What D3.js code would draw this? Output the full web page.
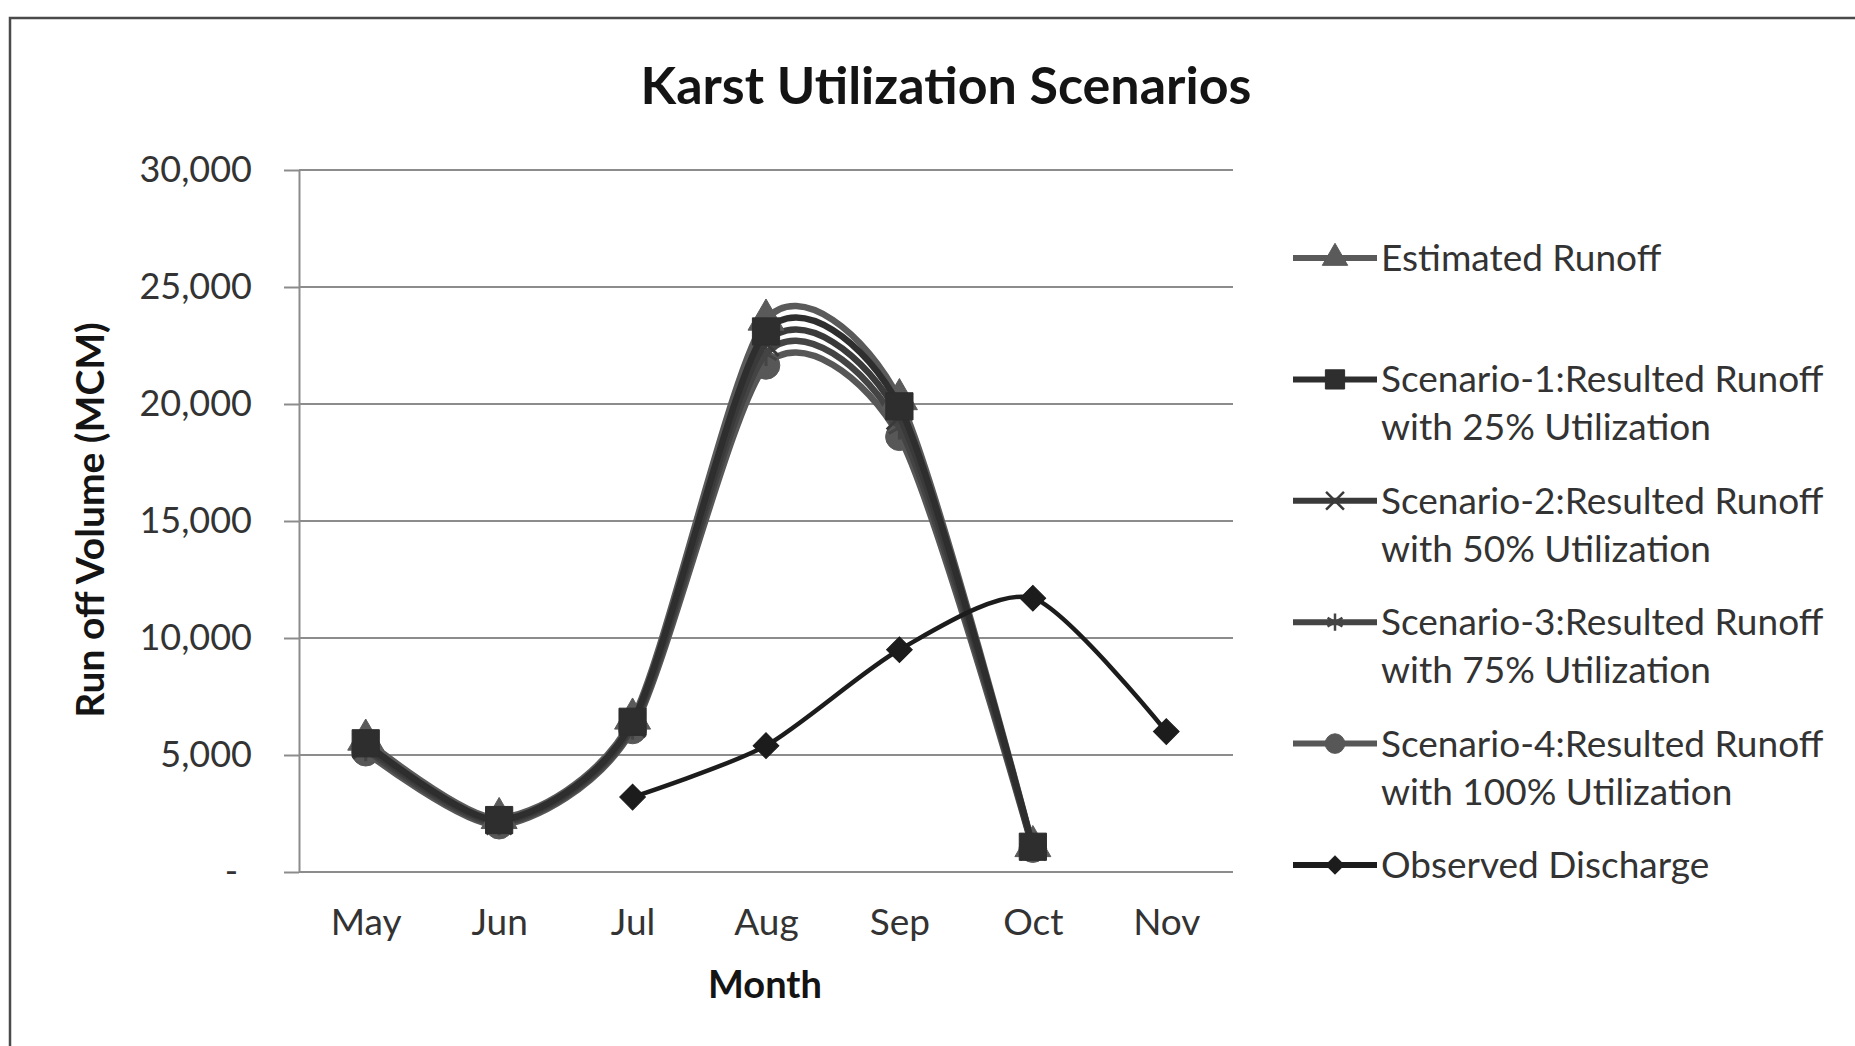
<!DOCTYPE html>
<html>
<head>
<meta charset="utf-8">
<script src="https://cdn.jsdelivr.net/npm/d3@7"></script>
<style>
  body { margin: 0; background: #fff; }
  text { font-family: Lato, "Open Sans", sans-serif; }
</style>
</head>
<body>
<script>
  // Data
  var months = ["May", "Jun", "Jul", "Aug", "Sep", "Oct", "Nov"];
  var estimated = [5650, 2300, 6550, 23600, 20200, 1100, null];
  var scenario1 = [5500, 2220, 6420, 23100, 19900, 1080, null];
  var scenario2 = [5380, 2150, 6300, 22600, 19450, 1060, null];
  var scenario3 = [5250, 2080, 6180, 22150, 19000, 1040, null];
  var scenario4 = [5120, 2000, 6070, 21650, 18600, 1000, null];
  var observed = [null, null, 3200, 5400, 9500, 11700, 6000];
  var yTicks = [0, 5000, 10000, 15000, 20000, 25000, 30000];
  var seriesNames = [
    ["Estimated Runoff"],
    ["Scenario-1:Resulted Runoff", "with 25% Utilization"],
    ["Scenario-2:Resulted Runoff", "with 50% Utilization"],
    ["Scenario-3:Resulted Runoff", "with 75% Utilization"],
    ["Scenario-4:Resulted Runoff", "with 100% Utilization"],
    ["Observed Discharge"]
  ];

  var width = 1855, height = 1046;
  var plot = { left: 299, right: 1233, top: 170, bottom: 872 };

  var svg = d3.select("body").append("svg")
    .attr("width", width)
    .attr("height", height);

  // chart frame
  svg.append("rect")
    .attr("x", 10).attr("y", 18)
    .attr("width", 1900).attr("height", 1100)
    .attr("fill", "none")
    .attr("stroke", "#4a4a4a")
    .attr("stroke-width", 2.5);

  var x = d3.scalePoint().domain(months).range([plot.left, plot.right]).padding(0.5);
  var y = d3.scaleLinear().domain([0, 30000]).range([plot.bottom, plot.top]);

  // gridlines
  svg.append("g").selectAll("line")
    .data(yTicks)
    .enter().append("line")
    .attr("x1", plot.left).attr("x2", plot.right)
    .attr("y1", function (d) { return y(d); })
    .attr("y2", function (d) { return y(d); })
    .attr("stroke", "#8c8c8c")
    .attr("stroke-width", 2);

  // y axis
  var yAxis = d3.axisLeft(y)
    .tickValues(yTicks)
    .tickSizeInner(15).tickSizeOuter(0)
    .tickPadding(32)
    .tickFormat(function (d) { return d === 0 ? "-" : d3.format(",")(d); });

  var gy = svg.append("g")
    .attr("transform", "translate(" + plot.left + ",0)")
    .call(yAxis);
  gy.select(".domain").attr("stroke", "#8c8c8c").attr("stroke-width", 2);
  gy.selectAll(".tick line").attr("stroke", "#8c8c8c").attr("stroke-width", 2);
  gy.selectAll(".tick text")
    .attr("font-size", 36)
    .attr("font-family", "Lato, sans-serif")
    .attr("fill", "#333")
    .attr("dx", function (d) { return d === 0 ? -14 : 0; });

  // x axis
  var xAxis = d3.axisBottom(x).tickSize(0).tickPadding(37);
  var gx = svg.append("g")
    .attr("transform", "translate(0," + plot.bottom + ")")
    .call(xAxis);
  gx.select(".domain").remove();
  gx.selectAll(".tick text")
    .attr("font-size", 37)
    .attr("font-family", "Lato, sans-serif")
    .attr("fill", "#333");

  // titles
  svg.append("text")
    .attr("x", 946).attr("y", 104)
    .attr("text-anchor", "middle")
    .attr("font-size", 52)
    .attr("font-weight", "bold")
    .attr("fill", "#141414")
    .text("Karst Utilization Scenarios");

  svg.append("text")
    .attr("x", 765).attr("y", 998)
    .attr("text-anchor", "middle")
    .attr("font-size", 38)
    .attr("font-weight", "bold")
    .attr("fill", "#141414")
    .text("Month");

  svg.append("text")
    .attr("transform", "translate(104,520) rotate(-90)")
    .attr("text-anchor", "middle")
    .attr("font-size", 39)
    .attr("font-weight", "bold")
    .attr("fill", "#141414")
    .text("Run off Volume (MCM)");

  // series (legend order)
  var series = [
    { values: estimated, color: "#5a5a5a", width: 6.5, symbol: d3.symbolTriangle, size: 560, rotate: 0, stroke: false },
    { values: scenario1, color: "#2e2e2e", width: 6.5, symbol: d3.symbolSquare, size: 740, rotate: 0, stroke: false },
    { values: scenario2, color: "#3a3a3a", width: 6.5, symbol: d3.symbolTimes || d3.symbolX, size: 420, rotate: 0, stroke: true },
    { values: scenario3, color: "#444444", width: 6.5, symbol: d3.symbolAsterisk, size: 420, rotate: 0, stroke: true },
    { values: scenario4, color: "#575757", width: 6.5, symbol: d3.symbolCircle, size: 600, rotate: 0, stroke: false },
    { values: observed, color: "#1c1c1c", width: 4.5, symbol: d3.symbolSquare, size: 330, rotate: 45, stroke: false }
  ];
  // drawing order so the squares sit on top like the original
  var drawOrder = [4, 3, 2, 0, 1, 5];

  var line = d3.line()
    .x(function (d) { return x(d.m); })
    .y(function (d) { return y(d.v); })
    .curve(d3.curveCardinal.tension(0.25));

  drawOrder.forEach(function (k) {
    var s = series[k];
    var pts = months.map(function (m, i) { return { m: m, v: s.values[i] }; })
      .filter(function (d) { return d.v !== null; });
    svg.append("path")
      .datum(pts)
      .attr("d", line)
      .attr("fill", "none")
      .attr("stroke", s.color)
      .attr("stroke-width", s.width)
      .attr("stroke-linecap", "round");

    svg.append("g").selectAll("path")
      .data(pts)
      .enter().append("path")
      .attr("d", d3.symbol().type(s.symbol).size(s.size))
      .attr("transform", function (d) {
        return "translate(" + x(d.m) + "," + y(d.v) + ") rotate(" + s.rotate + ")";
      })
      .attr("fill", s.stroke ? "none" : s.color)
      .attr("stroke", s.color)
      .attr("stroke-width", s.stroke ? 3 : 1);
  });

  // legend
  var legend = svg.append("g").attr("transform", "translate(1293,258)");
  var rows = legend.selectAll("g")
    .data(series)
    .enter().append("g")
    .attr("transform", function (d, i) { return "translate(0," + (i * 121.4) + ")"; });

  rows.append("line")
    .attr("x1", 0).attr("x2", 84)
    .attr("stroke", function (d) { return d.color; })
    .attr("stroke-width", 6);

  rows.append("path")
    .attr("d", function (d) { return d3.symbol().type(d.symbol).size(d.size * 0.5)(); })
    .attr("transform", function (d) { return "translate(42,0) rotate(" + d.rotate + ")"; })
    .attr("fill", function (d) { return d.stroke ? "none" : d.color; })
    .attr("stroke", function (d) { return d.color; })
    .attr("stroke-width", function (d) { return d.stroke ? 2.5 : 1; });

  rows.append("text")
    .attr("x", 88)
    .attr("y", 0)
    .attr("font-size", 37)
    .attr("fill", "#333")
    .selectAll("tspan")
    .data(function (d, i) { return seriesNames[i]; })
    .enter().append("tspan")
    .attr("x", 88)
    .attr("dy", function (d, i) { return i === 0 ? "0.35em" : 48; })
    .text(function (d) { return d; });
</script>
</body>
</html>
